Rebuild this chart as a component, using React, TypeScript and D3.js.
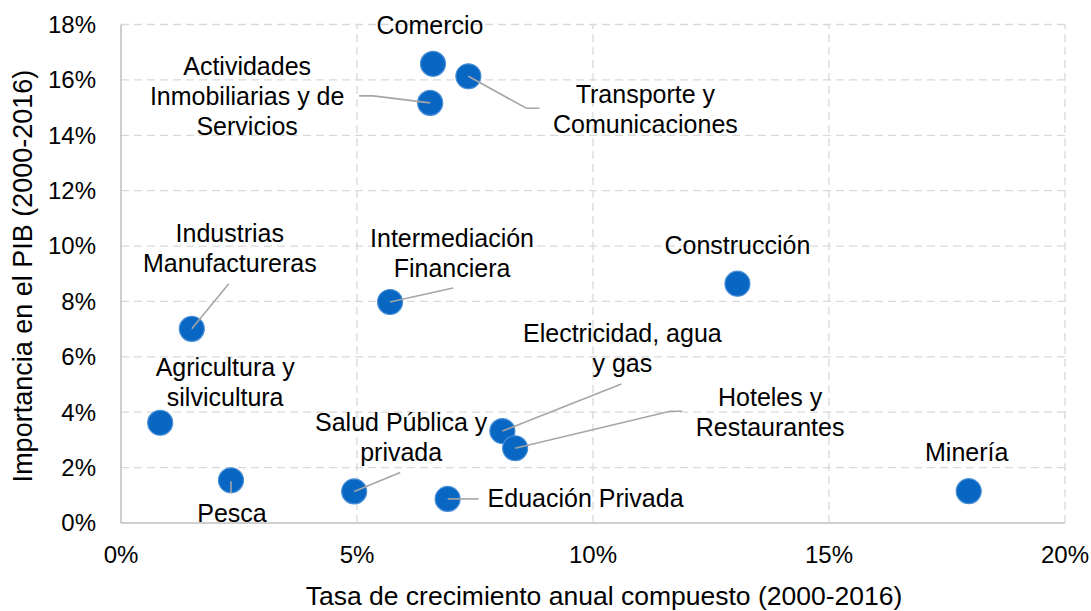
import React from 'react';
import * as d3 from 'd3';

// sectores y valores (en %)
const sectors = [
  'Comercio',
  'Transporte y Comunicaciones',
  'Actividades Inmobiliarias y de Servicios',
  'Construcción',
  'Industrias Manufactureras',
  'Intermediación Financiera',
  'Electricidad, agua y gas',
  'Hoteles y Restaurantes',
  'Agricultura y silvicultura',
  'Pesca',
  'Salud Pública y privada',
  'Eduación Privada',
  'Minería',
];
const growth = [6.61, 7.36, 6.55, 13.06, 1.5, 5.7, 8.08, 8.35, 0.83, 2.33, 4.94, 6.92, 17.96];
const share = [16.58, 16.13, 15.17, 8.64, 7.01, 7.98, 3.32, 2.7, 3.62, 1.54, 1.14, 0.87, 1.15];

const labelLines = [
  ['Comercio'],
  ['Transporte y', 'Comunicaciones'],
  ['Actividades', 'Inmobiliarias y de', 'Servicios'],
  ['Construcción'],
  ['Industrias', 'Manufactureras'],
  ['Intermediación', 'Financiera'],
  ['Electricidad, agua', 'y gas'],
  ['Hoteles y', 'Restaurantes'],
  ['Agricultura y', 'silvicultura'],
  ['Pesca'],
  ['Salud Pública y', 'privada'],
  ['Eduación Privada'],
  ['Minería'],
];

const xTicks = [0, 5, 10, 15, 20];
const yTicks = [0, 2, 4, 6, 8, 10, 12, 14, 16, 18];

// desplazamiento de etiquetas y lineas guia (px respecto al punto)
const labelPos = [
  { dx: -3, dy: -30, anchor: 'middle', leader: null },
  { dx: 177, dy: 27, anchor: 'middle', leader: [[0, 0], [58, 32], [71, 32]] },
  { dx: -183, dy: -28, anchor: 'middle', leader: [[0, 0], [-57, -7], [-71, -7]] },
  { dx: 0, dy: -30, anchor: 'middle', leader: null },
  { dx: 38, dy: -87, anchor: 'middle', leader: [[0, 0], [37, -45]] },
  { dx: 62, dy: -55, anchor: 'middle', leader: [[0, 0], [63, -14]] },
  { dx: 120, dy: -89, anchor: 'middle', leader: [[0, 0], [119, -47]] },
  { dx: 255, dy: -42.5, anchor: 'middle', leader: [[0, 0], [155, -37], [167, -37]] },
  { dx: 65, dy: -47, anchor: 'middle', leader: null },
  { dx: 1, dy: 42, anchor: 'middle', leader: [[0, 1], [0, 13]] },
  { dx: 47, dy: -60, anchor: 'middle', leader: [[0, 0], [46, -19]] },
  { dx: 40, dy: 8, anchor: 'start', leader: [[0, 0], [31, 0]] },
  { dx: -2, dy: -30, anchor: 'middle', leader: null },
];

const font = '"Liberation Sans", Arial, sans-serif';

export default function App() {
  const width = 1091;
  const height = 611;
  const x = d3.scaleLinear().domain([0, 20]).range([121, 1065]);
  const y = d3.scaleLinear().domain([0, 18]).range([523, 24.5]);
  const line = d3.line();

  return (
    <svg width={width} height={height}
      style={{ position: 'absolute', left: 0, top: 0, background: '#fff', fontFamily: font }}>
      {/* rejilla */}
      {yTicks.filter(t => t > 0).map(t => (
        <line key={'gy' + t} x1={x(0)} x2={x(20)} y1={y(t)} y2={y(t)}
          stroke="#d9d9d9" strokeWidth={1.3} strokeDasharray="8,5" />
      ))}
      {xTicks.filter(t => t > 0).map(t => (
        <line key={'gx' + t} x1={x(t)} x2={x(t)} y1={y(0)} y2={y(18)}
          stroke="#d9d9d9" strokeWidth={1.3} strokeDasharray="8,5" />
      ))}
      <line x1={x(0)} x2={x(0)} y1={y(0)} y2={y(18)} stroke="#bfbfbf" strokeWidth={1.5} />
      <line x1={x(0)} x2={x(20)} y1={y(0)} y2={y(0)} stroke="#bfbfbf" strokeWidth={1.5} />

      {/* ticks */}
      {yTicks.map(t => (
        <text key={'ty' + t} x={96} y={y(t)} dy="0.35em" textAnchor="end" fontSize={24} fill="#000">
          {t + '%'}
        </text>
      ))}
      {xTicks.map(t => (
        <text key={'tx' + t} x={x(t)} y={563} textAnchor="middle" fontSize={24} fill="#000">
          {t + '%'}
        </text>
      ))}

      {/* titulos de ejes */}
      <text x={604} y={605} textAnchor="middle" fontSize={26.5} fill="#000">
        Tasa de crecimiento anual compuesto (2000-2016)
      </text>
      <text transform={`translate(32, 276) rotate(-90)`} textAnchor="middle" fontSize={27} fill="#000">
        Importancia en el PIB (2000-2016)
      </text>

      {/* puntos */}
      {sectors.map((s, i) => (
        <circle key={'c' + i} cx={x(growth[i])} cy={y(share[i])} r={12.5}
          fill="#0867c3" stroke="#4b8fd6" strokeWidth={1.2} />
      ))}

      {/* lineas guia */}
      {sectors.map((s, i) => {
        const p = labelPos[i];
        if (!p.leader) return null;
        const cx = x(growth[i]);
        const cy = y(share[i]);
        const pts = p.leader.map(([a, b]) => [cx + a, cy + b] as [number, number]);
        return <path key={'l' + i} d={line(pts) || ''} fill="none" stroke="#a6a6a6" strokeWidth={1.6} />;
      })}

      {/* etiquetas */}
      {sectors.map((s, i) => {
        const p = labelPos[i];
        const cx = x(growth[i]) + p.dx;
        const cy = y(share[i]) + p.dy;
        return (
          <text key={'t' + i} x={cx} y={cy} textAnchor={p.anchor} fontSize={25} fill="#000">
            {labelLines[i].map((ln, j) => (
              <tspan key={j} x={cx} y={cy + j * 30}>{ln}</tspan>
            ))}
          </text>
        );
      })}
    </svg>
  );
}
